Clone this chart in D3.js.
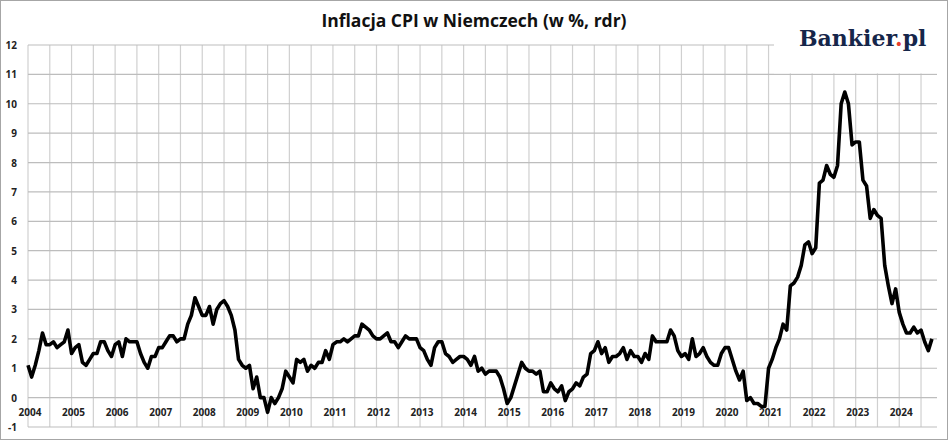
<!DOCTYPE html>
<html>
<head>
<meta charset="utf-8">
<script src="https://cdn.jsdelivr.net/npm/d3@7"></script>
<style>
  body { margin: 0; background: #fff; }
  svg { display: block; font-family: "Open Sans", "DejaVu Sans", sans-serif; }
</style>
</head>
<body>
<div id="chart"></div>
<script>
// Monthly CPI y/y, Jan 2004 - Oct 2024
const years = d3.range(2004, 2025);
const cpi2004 = [1.1, 0.7, 1.1, 1.6, 2.2, 1.8, 1.8, 1.9, 1.7, 1.8, 1.9, 2.3];
const cpi2005 = [1.5, 1.7, 1.8, 1.2, 1.1, 1.3, 1.5, 1.5, 1.9, 1.9, 1.6, 1.4];
const cpi2006 = [1.8, 1.9, 1.4, 2.0, 1.9, 1.9, 1.9, 1.5, 1.2, 1.0, 1.4, 1.4];
const cpi2007 = [1.7, 1.7, 1.9, 2.1, 2.1, 1.9, 2.0, 2.0, 2.5, 2.8, 3.4, 3.1];
const cpi2008 = [2.8, 2.8, 3.1, 2.5, 3.0, 3.2, 3.3, 3.1, 2.8, 2.3, 1.3, 1.1];
const cpi2009 = [1.0, 1.1, 0.3, 0.7, 0.0, 0.0, -0.5, 0.0, -0.2, 0.0, 0.3, 0.9];
const cpi2010 = [0.7, 0.5, 1.3, 1.2, 1.3, 0.9, 1.1, 1.0, 1.2, 1.2, 1.6, 1.3];
const cpi2011 = [1.8, 1.9, 1.9, 2.0, 1.9, 2.0, 2.1, 2.1, 2.5, 2.4, 2.3, 2.1];
const cpi2012 = [2.0, 2.0, 2.1, 2.2, 1.9, 1.9, 1.7, 1.9, 2.1, 2.0, 2.0, 2.0];
const cpi2013 = [1.7, 1.6, 1.3, 1.1, 1.7, 1.9, 1.9, 1.5, 1.4, 1.2, 1.3, 1.4];
const cpi2014 = [1.4, 1.3, 1.1, 1.4, 0.9, 1.0, 0.8, 0.9, 0.9, 0.9, 0.7, 0.3];
const cpi2015 = [-0.2, 0.0, 0.4, 0.8, 1.2, 1.0, 0.9, 0.9, 0.8, 0.9, 0.2, 0.2];
const cpi2016 = [0.5, 0.3, 0.2, 0.4, -0.1, 0.2, 0.3, 0.5, 0.4, 0.7, 0.8, 1.5];
const cpi2017 = [1.6, 1.9, 1.5, 1.7, 1.2, 1.4, 1.4, 1.5, 1.7, 1.3, 1.6, 1.4];
const cpi2018 = [1.4, 1.2, 1.5, 1.3, 2.1, 1.9, 1.9, 1.9, 1.9, 2.3, 2.1, 1.6];
const cpi2019 = [1.4, 1.5, 1.3, 2.0, 1.4, 1.5, 1.7, 1.4, 1.2, 1.1, 1.1, 1.5];
const cpi2020 = [1.7, 1.7, 1.3, 0.9, 0.6, 0.9, -0.1, 0.0, -0.2, -0.2, -0.3, -0.3];
const cpi2021 = [1.0, 1.3, 1.7, 2.0, 2.5, 2.3, 3.8, 3.9, 4.1, 4.5, 5.2, 5.3];
const cpi2022 = [4.9, 5.1, 7.3, 7.4, 7.9, 7.6, 7.5, 7.9, 10.0, 10.4, 10.0, 8.6];
const cpi2023 = [8.7, 8.7, 7.4, 7.2, 6.1, 6.4, 6.2, 6.1, 4.5, 3.8, 3.2, 3.7];
const cpi2024 = [2.9, 2.5, 2.2, 2.2, 2.4, 2.2, 2.3, 1.9, 1.6, 2.0];
const yTicks = d3.range(-1, 13);

const series = [cpi2004, cpi2005, cpi2006, cpi2007, cpi2008, cpi2009, cpi2010,
  cpi2011, cpi2012, cpi2013, cpi2014, cpi2015, cpi2016, cpi2017, cpi2018,
  cpi2019, cpi2020, cpi2021, cpi2022, cpi2023, cpi2024];
const data = [];
series.forEach((vals, i) => vals.forEach((v, m) => data.push({t: years[i] + m / 12, v})));

const W = 948, H = 440;
const plotLeft = 28, plotRight = 937, plotTop = 45, plotBottom = 427;

const svg = d3.select("#chart").append("svg").attr("width", W).attr("height", H);

svg.append("rect").attr("x", 0.5).attr("y", 0.5).attr("width", W - 1).attr("height", H - 1)
    .attr("fill", "#fff").attr("stroke", "#a6a6a6");

const x = d3.scaleLinear().domain([2004, 2024 + 10.4 / 12]).range([plotLeft, plotRight]);
const y = d3.scaleLinear().domain([-1, 12]).range([plotBottom, plotTop]);

// vertical grid every half year
const halfYears = d3.range(2004, 2025, 0.5);
svg.append("g").selectAll("line").data(halfYears).join("line")
    .attr("x1", d => x(d)).attr("x2", d => x(d))
    .attr("y1", plotTop).attr("y2", plotBottom)
    .attr("stroke", "#d0d0d0").attr("stroke-width", 1.2);

// horizontal grid
svg.append("g").selectAll("line").data(yTicks).join("line")
    .attr("x1", plotLeft).attr("x2", plotRight)
    .attr("y1", d => y(d)).attr("y2", d => y(d))
    .attr("stroke", "#bdbdbd").attr("stroke-width", 1.2);

// logo background
svg.append("rect").attr("x", 774).attr("y", plotTop - 2).attr("width", 172).attr("height", y(11) - plotTop + 1)
    .attr("fill", "#fff");

// y tick labels
svg.append("g").selectAll("text").data(yTicks).join("text")
    .attr("x", 17).attr("y", d => y(d) + 4)
    .attr("text-anchor", "end")
    .attr("font-size", 10).attr("font-weight", "bold").attr("fill", "#222")
    .text(d => d);

// year labels
svg.append("g").selectAll("text").data(years).join("text")
    .attr("x", d => x(d) + 2).attr("y", 416)
    .attr("text-anchor", "middle")
    .attr("font-size", 10).attr("font-weight", "bold").attr("fill", "#222")
    .text(d => d);

// line
const line = d3.line().x(d => x(d.t)).y(d => y(d.v));
svg.append("path").datum(data)
    .attr("fill", "none").attr("stroke", "#000").attr("stroke-width", 3.6)
    .attr("stroke-linejoin", "round").attr("d", line);

// title
svg.append("text").attr("x", 474).attr("y", 27).attr("text-anchor", "middle")
    .attr("font-size", 17.5).attr("font-weight", "bold").attr("fill", "#111")
    .text("Inflacja CPI w Niemczech (w %, rdr)");

// logo
const logo = svg.append("text").attr("x", 799).attr("y", 46)
    .attr("font-family", "'DejaVu Serif', 'Liberation Serif', serif")
    .attr("font-size", 22).attr("font-weight", "bold").attr("fill", "#16264a");
logo.append("tspan").text("Bankier");
logo.append("tspan").attr("fill", "#e8412c").text(".");
logo.append("tspan").text("pl");
</script>
</body>
</html>
